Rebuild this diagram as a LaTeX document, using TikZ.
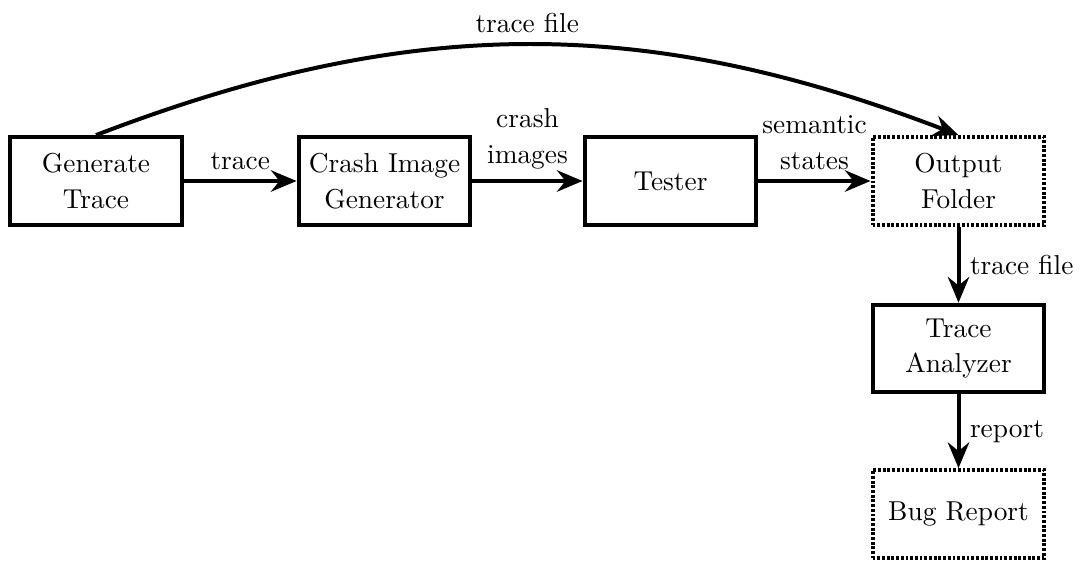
\documentclass[tikz,border=0pt]{standalone}
\usetikzlibrary{arrows.meta}
\begin{document}
\begin{tikzpicture}[x=0.3509pt,y=-0.3509pt,
  txt/.style={font=\fontsize{9.6}{12.6}\selectfont,align=center},
  box/.style={txt,draw,line width=1.4pt,minimum width=60.3pt,minimum height=30.8pt},
  dotbox/.style={box,dash pattern=on 1pt off 0.65pt},
  arr/.style={line width=1.4pt,-{Stealth[length=9pt,width=7.5pt,inset=3pt]}},
  lbl/.style={txt}]
\useasboundingbox (0,0) rectangle (1085,563);
\node[box] (gen) at (96,181) {Generate\\Trace};
\node[box] (cig) at (384.5,181) {Crash Image\\Generator};
\node[box] (tst) at (670.5,181) {Tester};
\node[dotbox] (out) at (958.5,181) {Output\\Folder};
\node[box] (ta) at (958.5,348.5) {Trace\\Analyzer};
\node[dotbox] (br) at (958.5,514) {Bug Report};
\draw[arr] (gen) -- node[lbl,above]{trace} (cig);
\draw[arr] (cig) -- node[lbl,above]{crash\\images} (tst);
\draw[arr] (tst) -- node[lbl,above]{semantic\\states} (out);
\draw[arr] (out) -- node[lbl,right]{trace file} (ta);
\draw[arr] (ta) -- node[lbl,right]{report} (br);
\draw[arr] (gen.north) to[bend left=21] node[lbl,above]{trace file} (out.north);
\end{tikzpicture}
\end{document}
